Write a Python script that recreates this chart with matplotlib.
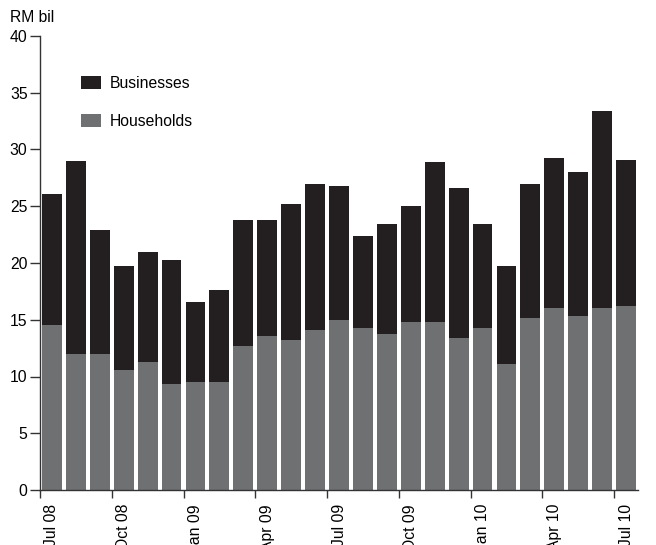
import matplotlib
matplotlib.use("Agg")
import matplotlib.pyplot as plt
import numpy as np

plt.rcParams['font.family'] = ['Liberation Sans', 'DejaVu Sans']

months = ["Jul 08", "Aug 08", "Sep 08", "Oct 08", "Nov 08", "Dec 08",
          "Jan 09", "Feb 09", "Mar 09", "Apr 09", "May 09", "Jun 09",
          "Jul 09", "Aug 09", "Sep 09", "Oct 09", "Nov 09", "Dec 09",
          "Jan 10", "Feb 10", "Mar 10", "Apr 10", "May 10", "Jun 10",
          "Jul 10"]
households = [14.5, 12.0, 12.0, 10.6, 11.3, 9.35, 9.5, 9.5, 12.7, 13.6, 13.2, 14.1,
              15.0, 14.3, 13.75, 14.8, 14.8, 13.4, 14.3, 11.1, 15.15, 16.05, 15.35, 16.05,
              16.2]
totals = [26.1, 29.0, 22.9, 19.75, 21.0, 20.3, 16.6, 17.6, 23.8, 23.8, 25.2, 27.0,
          26.8, 22.4, 23.45, 25.0, 28.9, 26.6, 23.45, 19.75, 26.95, 29.25, 28.0, 33.4,
          29.1]
businesses = [t - h for t, h in zip(totals, households)]

c_bus = "#231f20"
c_hh = "#6f7072"
fs = 11.3

fig = plt.figure(figsize=(6.56, 5.45), dpi=100)
ax = fig.add_axes([40/656, 55/545, 598/656, 454/545])

x = np.arange(len(months)) + 0.5
w = 0.83
ax.bar(x, households, width=w, color=c_hh, label="Households", zorder=2)
ax.bar(x, businesses, width=w, bottom=households, color=c_bus, label="Businesses", zorder=2)

ax.set_xlim(0, len(months))
ax.set_ylim(0, 40)
ax.set_yticks(np.arange(0, 41, 5))
ax.tick_params(axis='y', length=7, width=1, pad=2, labelsize=fs, color="#333333")

major = np.arange(0, len(months), 3)
ax.set_xticks(major)
ax.set_xticklabels([])
ax.set_xticks(major + 0.5, [months[i] for i in major], minor=True)
ax.tick_params(axis='x', which='major', length=6, width=1, color="#333333")
ax.tick_params(axis='x', which='minor', length=0, pad=10, labelsize=fs,
               labelrotation=90)
for lbl in ax.get_xticklabels(minor=True):
    lbl.set_va('top')

for s in ['top', 'right']:
    ax.spines[s].set_visible(False)
for s in ['left', 'bottom']:
    ax.spines[s].set_color("#333333")
    ax.spines[s].set_linewidth(1)

handles, labels = ax.get_legend_handles_labels()
ax.legend(handles[::-1], labels[::-1], loc='upper left',
          bbox_to_anchor=(81/656, 1 - 76/545), bbox_transform=fig.transFigure,
          frameon=False, fontsize=fs, handlelength=1.27, handleheight=0.89,
          labelspacing=1.48, handletextpad=0.57, borderpad=0, borderaxespad=0)

fig.text(10/656, 1 - 22/545, "RM bil", fontsize=fs, va='baseline', ha='left')

fig.savefig("out.png", dpi=100)
